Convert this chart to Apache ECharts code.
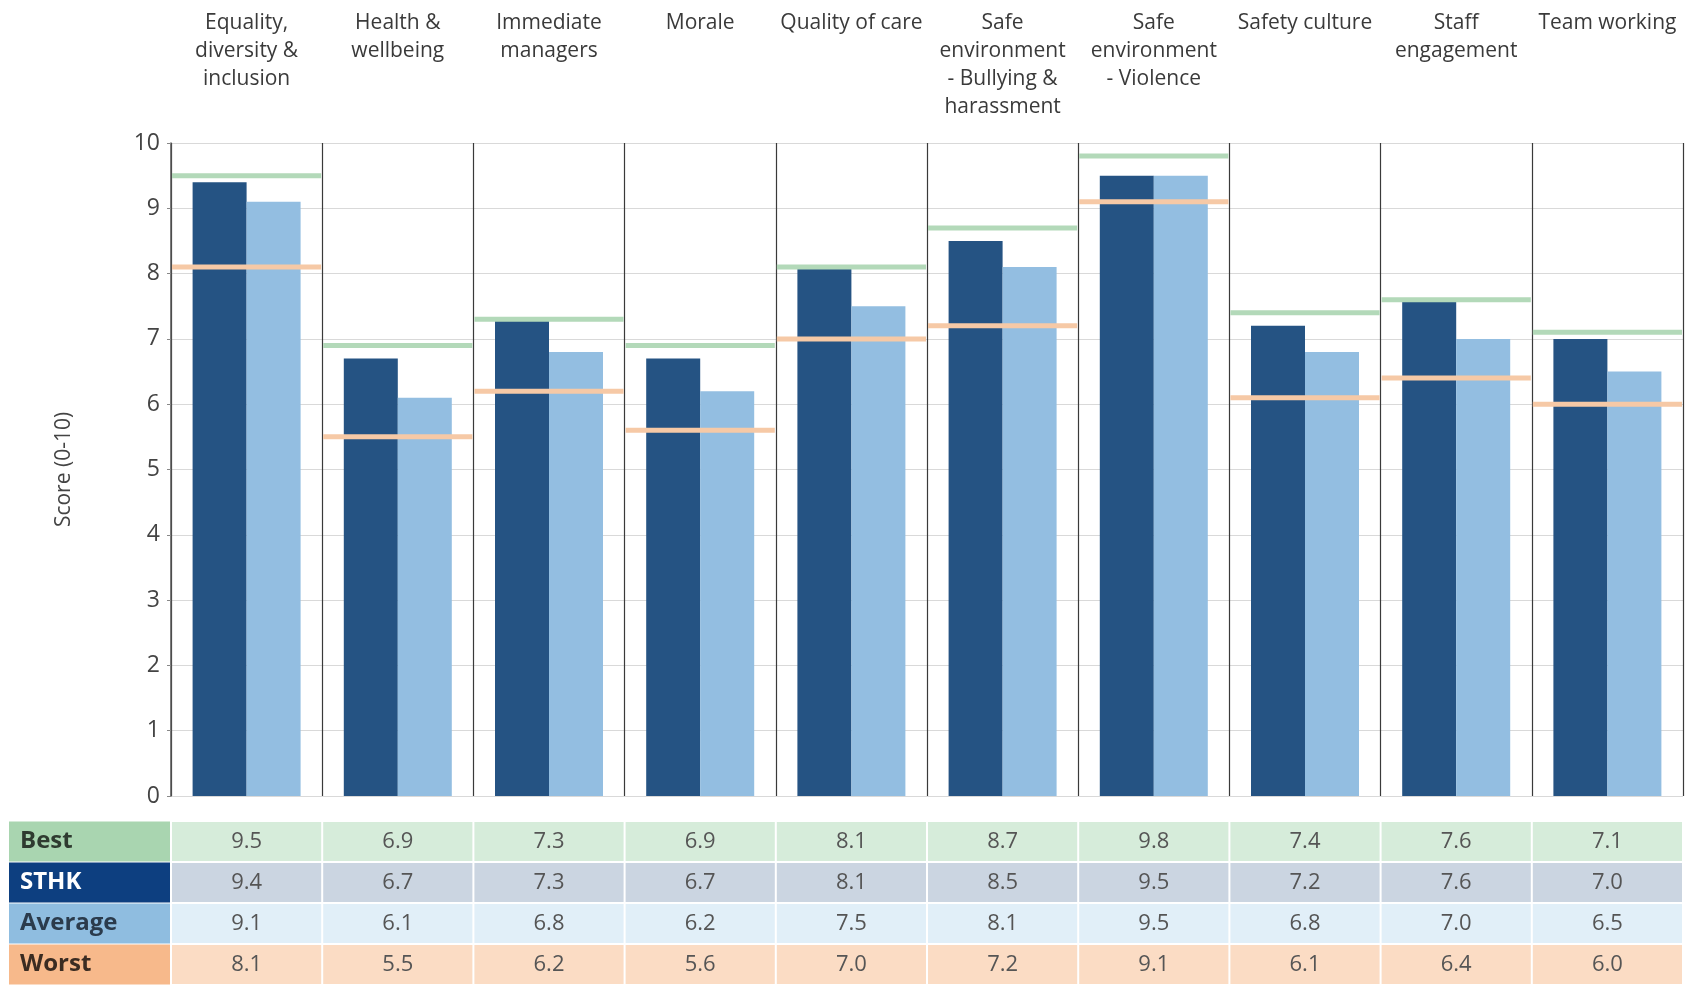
<!DOCTYPE html>
<html>
<head>
<meta charset="utf-8">
<script src="https://cdn.jsdelivr.net/npm/echarts@6/dist/echarts.min.js"></script>
<style>
  html, body { margin: 0; padding: 0; background: #fff; }
  #chart { width: 1688px; height: 985px; }
</style>
</head>
<body>
<div id="chart"></div>
<script>
const categories = [
  'Equality,\ndiversity &\ninclusion',
  'Health &\nwellbeing',
  'Immediate\nmanagers',
  'Morale',
  'Quality of care',
  'Safe\nenvironment\n- Bullying &\nharassment',
  'Safe\nenvironment\n- Violence',
  'Safety culture',
  'Staff\nengagement',
  'Team working'
]
const best = [9.5, 6.9, 7.3, 6.9, 8.1, 8.7, 9.8, 7.4, 7.6, 7.1]
const sthk = [9.4, 6.7, 7.3, 6.7, 8.1, 8.5, 9.5, 7.2, 7.6, 7.0]
const average = [9.1, 6.1, 6.8, 6.2, 7.5, 8.1, 9.5, 6.8, 7.0, 6.5]
const worst = [8.1, 5.5, 6.2, 5.6, 7.0, 7.2, 9.1, 6.1, 6.4, 6.0]
const rowNames = ['Best', 'STHK', 'Average', 'Worst']
const yTicks = [0, 1, 2, 3, 4, 5, 6, 7, 8, 9, 10]

const FONT = '"Open Sans", "Noto Sans", sans-serif'

// 表格配色：表头 / 单元格 / 表头文字
const headColors = ['#a9d5b0', '#0d3f80', '#8fbde0', '#f7b98b']
const cellColors = ['#d6ecda', '#cbd5e1', '#e1eff8', '#fbdcc4']
const headText = ['#2f3b30', '#ffffff', '#2b3b4c', '#3b2c22']

const chart = echarts.init(document.getElementById('chart'))

// 最好/最差水平线：横跨整个类目宽度
const levelLine = (color) => (params, api) => {
  const c = api.coord([api.value(0), api.value(1)])
  const w = api.size([1, 0])[0]
  return {
    type: 'rect',
    shape: { x: c[0] - w / 2 + 1, y: c[1] - 2.5, width: w - 2, height: 5 },
    style: { fill: color }
  }
}

const tableData = []
;[best, sthk, average, worst].forEach((row, r) => {
  row.forEach((v, i) => tableData.push([i, r, v]))
})

const rich = {}
rowNames.forEach((n, i) => {
  rich['h' + i] = {
    width: 150,
    height: 40,
    lineHeight: 40,
    padding: [0, 0, 0, 11],
    align: 'left',
    backgroundColor: headColors[i],
    color: headText[i],
    fontFamily: FONT,
    fontSize: 24,
    fontWeight: 'bold'
  }
})

const option = {
  backgroundColor: '#fff',
  animation: false,
  grid: [
    { left: 171, right: 5, top: 143, height: 653 },
    { left: 171, right: 5, top: 821, height: 170 }
  ],
  xAxis: [
    {
      type: 'category',
      gridIndex: 0,
      position: 'top',
      data: categories,
      axisLine: { show: false },
      axisTick: { show: false },
      axisLabel: {
        interval: 0,
        verticalAlign: 'top',
        margin: 134,
        fontFamily: FONT,
        fontSize: 21,
        lineHeight: 28,
        color: '#3a3a3a'
      },
      splitLine: { show: true, interval: 0, lineStyle: { color: '#3a3a3a', width: 1.2 } }
    },
    {
      type: 'category',
      gridIndex: 1,
      data: categories,
      show: false
    }
  ],
  yAxis: [
    {
      type: 'value',
      gridIndex: 0,
      min: yTicks[0],
      max: yTicks[yTicks.length - 1],
      interval: 1,
      name: 'Score (0-10)',
      nameLocation: 'middle',
      nameGap: 96,
      nameTextStyle: { fontFamily: FONT, fontSize: 21, color: '#444' },
      axisLine: { show: true, lineStyle: { color: '#555', width: 1.5 } },
      axisTick: { show: true, length: 4, lineStyle: { color: '#888' } },
      axisLabel: { fontFamily: FONT, fontSize: 23, color: '#444', margin: 11 },
      splitLine: { lineStyle: { color: '#d9d9d9', width: 1 } }
    },
    {
      type: 'category',
      gridIndex: 1,
      inverse: true,
      data: rowNames,
      axisLine: { show: false },
      axisTick: { show: false },
      axisLabel: {
        margin: 1,
        formatter: (v, i) => '{h' + i + '|' + v + '}',
        rich: rich
      }
    }
  ],
  series: [
    {
      name: 'STHK',
      type: 'bar',
      data: sthk,
      barWidth: 54,
      barGap: '0%',
      itemStyle: { color: '#255383' }
    },
    {
      name: 'Average',
      type: 'bar',
      data: average,
      barWidth: 54,
      barGap: '0%',
      itemStyle: { color: '#93bee1' }
    },
    {
      name: 'Best',
      type: 'custom',
      z: 5,
      renderItem: levelLine('#b3d9b9'),
      data: best.map((v, i) => [i, v])
    },
    {
      name: 'Worst',
      type: 'custom',
      z: 5,
      renderItem: levelLine('#f6c9a6'),
      data: worst.map((v, i) => [i, v])
    },
    {
      name: 'table',
      type: 'custom',
      xAxisIndex: 1,
      yAxisIndex: 1,
      renderItem: (params, api) => {
        const col = api.value(0)
        const row = api.value(1)
        const c = api.coord([col, row])
        const s = api.size([1, 1])
        return {
          type: 'rect',
          shape: { x: c[0] - s[0] / 2 + 1, y: c[1] - s[1] / 2 + 1, width: s[0] - 2, height: s[1] - 2 },
          style: { fill: cellColors[row] },
          textContent: {
            style: {
              text: api.value(2).toFixed(1),
              fill: '#555',
              fontFamily: FONT,
              fontSize: 22
            }
          },
          textConfig: { position: 'inside' }
        }
      },
      data: tableData
    }
  ]
}

chart.setOption(option)
</script>
</body>
</html>
